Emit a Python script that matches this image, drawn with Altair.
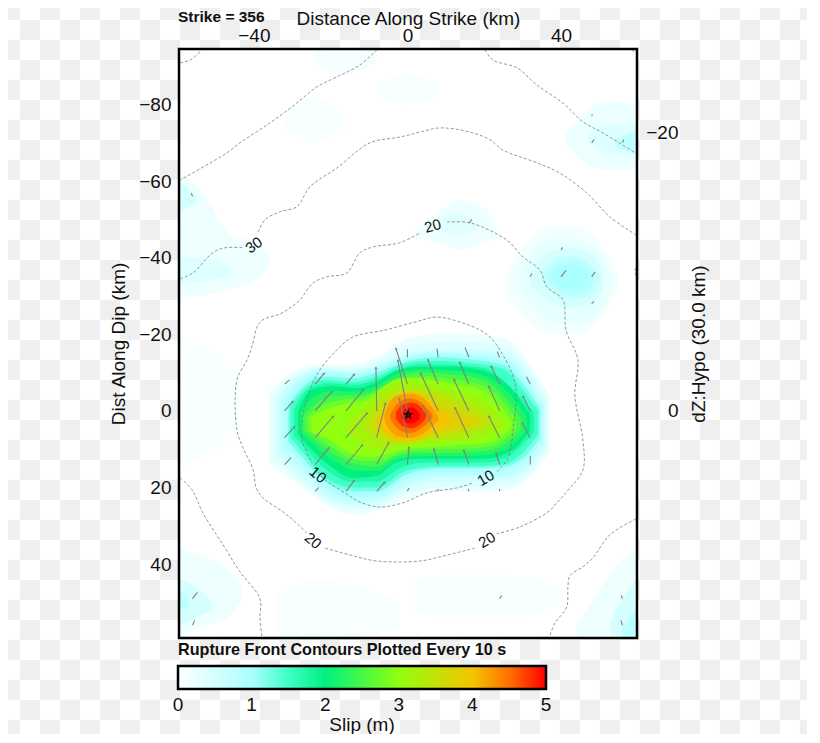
import math
import altair as alt
import pandas as pd

X_DOMAIN = [-59.5, 59.8]
Y_DOMAIN = [-94.5, 59.3]
DZ_DOMAIN = [-26.04, 16.33]
W, H = 458, 589
FONT = "Liberation Sans"
FS = 19

SLIP_STOPS = [0, 1, 1.5, 2, 3, 4, 4.5, 5]
SLIP_COLORS = ["#ffffff", "#aaffff", "#40ffc8", "#00f080", "#90ff10", "#f4c400", "#ff7000", "#ff0000"]
SLIP_TICKS = [0, 1, 2, 3, 4, 5]

# (slip level, x km, upper edge km, lower edge km), drawn low to high
PATCHES = [
    (0.08, [-59.4, -50, -44], [-20, -15, -10], [15, 10, 5]),
    (0.08, [-8, -1, 8], [-85, -88, -85], [-82, -80, -82]),
    (0.12, [-24, -16, -8], [-94, -94.3, -94], [-90, -88, -91]),
    (0.1, [-32, -24, -16], [-77, -82, -77], [-74, -70, -74]),
    (0.1, [2, 12, 24, 34, 40], [44, 43, 43, 44, 46], [52, 54, 54, 53, 50]),
    (0.08, [-34, -24, -12, -2], [48, 44, 46, 50], [59, 59, 59, 56]),
    (0.2, [41, 46, 52, 59.5], [-72, -78, -81, -80], [-70, -65, -63, -63]),
    (0.4, [47, 52, 59.5], [-72, -75, -75], [-70, -67, -66]),
    (0.7, [54, 59.5], [-71, -73], [-69, -67]),
    (0.15, [26, 32, 38, 44, 50, 55], [-36, -45, -48, -48, -44, -35], [-30, -23, -20, -20, -24, -32]),
    (0.3, [29, 34, 40, 46, 51, 53], [-36, -43, -45, -44, -40, -35], [-32, -26, -23, -23, -27, -32]),
    (0.5, [32, 36, 42, 48, 51], [-36, -41, -42.5, -41, -36], [-33, -29, -27, -28, -32]),
    (0.7, [35, 39, 43, 47, 50], [-36, -40, -40.5, -39, -36], [-34, -30, -29, -30, -33]),
    (0.85, [36.5, 40, 43, 47, 48.5], [-36, -39, -39.5, -38, -36], [-34, -31, -30, -31, -33.5]),
    (1.0, [38, 41, 44, 47], [-36, -38, -38, -36], [-34, -32, -32, -34]),
    (0.2, [2, 8, 14, 20, 24], [-47, -52, -55, -53, -46], [-45, -44, -42, -44, -45]),
    (0.35, [8, 13, 18], [-49, -52, -49], [-47, -46, -47]),
    (0.2, [-59.4, -54, -46, -40, -36], [-62, -58, -46, -44, -41], [-30, -30, -32, -34, -38]),
    (0.5, [-59.4, -55], [-60, -56], [-52, -54]),
    (0.4, [-59.4, -52, -46], [-40, -40, -37], [-33, -34, -35]),
    (0.2, [-59.4, -53, -47, -43], [36, 38, 41, 46], [59, 56, 54, 49]),
    (0.5, [-59.4, -55, -51], [44, 46, 50], [56, 54, 52]),
    (0.8, [-59.4, -57], [47, 49], [52, 51]),
    (0.2, [44, 48, 54, 59.5], [56, 50, 41, 36], [59, 59, 59, 59]),
    (0.5, [53, 56, 59.5], [55, 49, 44], [59, 59, 59]),
    (0.8, [56, 59.5], [56, 52], [59, 59]),
    # main slip patch
    (0.25, [-36, -30, -22, -14, -8, 0, 8, 16, 25, 32, 37],
     [-5, -10, -12, -12, -14, -19, -20, -20, -19, -12, -4],
     [14, 18, 24, 27, 26, 23, 21, 21, 21, 17, 11]),
    (0.4, [-35, -30, -22, -14, -8, 0, 8, 16, 25, 32, 36.5],
     [-4, -9, -11.5, -11, -13, -17, -18, -18, -17, -10.5, -3],
     [12.5, 16.5, 23, 25.5, 25, 21.5, 20, 20, 19.5, 16, 10]),
    (0.6, [-34, -30, -22, -14, -8, 0, 8, 16, 25, 32, 36],
     [-3, -8, -11, -10.5, -12, -15, -16, -16, -15, -9, -2],
     [11, 15, 22, 24.5, 24, 20, 18.5, 18.5, 18, 14.5, 9]),
    (0.8, [-33, -29, -22, -14, -8, 0, 8, 16, 25, 31.5, 35.5],
     [-2.5, -7.5, -10.5, -10, -11.5, -14.5, -15.5, -15, -14, -8, -1.5],
     [10, 14, 20.5, 23.5, 23, 19, 17, 17, 17, 13.5, 8.5]),
    (1.0, [-32, -28, -22, -14, -8, 0, 8, 16, 25, 31, 35],
     [-2, -7, -10, -9.5, -11, -14, -15, -14.5, -13, -7.5, -1],
     [9, 13, 19.5, 22.5, 22, 17.5, 16, 16, 15.5, 12.5, 8]),
    (1.25, [-31, -27.5, -22, -14, -8, 0, 8, 16, 25, 30.5, 34.5],
     [-1.5, -6, -9, -8.5, -10, -13, -14, -13.5, -12, -6.5, -0.5],
     [8, 12, 18, 21, 21, 16.5, 15, 15, 14.5, 12, 7]),
    (1.5, [-30.5, -27, -22, -14, -8, 0, 8, 16, 25, 30, 34],
     [-1, -5.5, -8, -7.5, -9, -12.5, -13, -12.5, -11, -5.5, 0],
     [7, 11, 17, 20, 20, 15.5, 14.5, 14.5, 14, 11, 6]),
    (1.75, [-29.5, -26, -21, -14, -8, -2, 4, 12, 20, 26, 33],
     [-0.5, -5.5, -7.2, -6.8, -8.2, -11, -12.2, -12, -11.2, -7, 0.5],
     [6.5, 10.5, 15.5, 18.5, 18.5, 15, 13.5, 13.5, 13.5, 12, 5.5]),
    (2.0, [-28.5, -25, -20, -14, -8, -3, 3, 12, 20, 27, 32],
     [0, -5.5, -6.5, -6, -7.5, -10.5, -11.5, -11.5, -10.5, -6, 1],
     [6, 10, 14.5, 17.5, 17, 13.5, 12.5, 12.5, 12.5, 10.5, 5]),
    (2.25, [-27.8, -24, -19, -13.5, -8, -3, 3, 12, 20, 26, 31],
     [0.5, -4, -5.2, -5, -6.5, -9.5, -10.8, -10.5, -9.2, -5, 1.5],
     [5.5, 9.2, 13, 15.5, 15.7, 12.8, 11.8, 11.8, 11.5, 9.8, 5]),
    (2.5, [-27, -23, -18, -13, -8, -3, 3, 12, 20, 25, 29.5],
     [1, -2.5, -4, -4, -5.5, -8.5, -10, -9.5, -8, -4, 2],
     [5, 8.5, 12, 14, 14.5, 12, 11, 11, 10.5, 9, 5]),
    (2.75, [-26, -22, -16.5, -11.5, -7, -2, 4, 12, 20, 24.5, 28.3],
     [1.2, -1.5, -3, -3.5, -6, -8.5, -9, -8.2, -6.5, -2.8, 2.2],
     [5.2, 7.8, 11.5, 13, 13, 11, 10.2, 10, 9.5, 8, 4.8]),
    (3.0, [-25, -21, -15, -10, -6, -1, 5, 12, 20, 24, 27],
     [1.5, -0.5, -2, -3, -6.5, -8.5, -8.2, -7, -5, -1.5, 2.5],
     [5.5, 7, 11, 12, 11.5, 10, 9.5, 9, 8.5, 7, 4.5]),
    (3.2, [-16, -11, -7, -2, 4, 12, 19, 23, 25],
     [2.5, -1, -5.5, -7.3, -7, -5.3, -3, 0, 2.5],
     [5, 9, 10, 9.3, 8.7, 8, 7, 5.5, 4]),
    (3.4, [-11, -8.5, -5, 0, 5, 12, 18, 22],
     [3, -1.5, -4.5, -6, -5.5, -3.5, -1, 2],
     [5, 7, 8.5, 8.5, 7.5, 7, 5.5, 3.5]),
    (3.6, [-9.5, -7, -3.5, 0, 5, 10, 15, 20],
     [2.5, -1, -4.2, -5.2, -4.5, -2.8, -0.5, 2],
     [4.5, 6.5, 8, 8, 7.2, 6.2, 5, 3.5]),
    (3.8, [-8, -6, -3, 0, 4, 8, 13, 18],
     [2, 0, -3, -4.5, -4, -1.5, 0.5, 2.5],
     [4, 5.5, 7.2, 7.8, 7, 5.5, 4.5, 3.5]),
    (4.0, [-7.5, -5.5, -2, 1, 5, 8, 11],
     [2, -1.5, -4.2, -5, -3.5, -1, 2],
     [3.5, 6, 7.8, 8, 6.5, 5, 3]),
    (4.2, [-6, -4.5, -2, 1, 4, 6, 8],
     [1, -2.5, -4.2, -4.5, -3.5, -1.5, 1.5],
     [2.5, 5.2, 6.8, 7, 6, 4.5, 2.5]),
    (4.5, [-4.5, -3, -1, 1, 3, 5, 6.5],
     [1, -1.5, -3, -3.3, -2.5, -0.8, 1],
     [2, 4.2, 5.5, 5.8, 5, 3.5, 2]),
    (4.8, [-3, -1.5, 1, 3, 4.8],
     [0.5, -1.5, -2.2, -1.5, 0.8],
     [2, 3.8, 4.5, 3.8, 2]),
    (5.0, [-1.5, 0, 1.5, 3.2],
     [0.8, -0.8, -0.8, 0.8],
     [2, 3.2, 3.2, 2]),
]

CONTOUR_10 = [
    [(-23.3, 16.0), (-21.5, 18.0), (-15.8, 21.7), (-12.4, 23.8), (-7.2, 25.1), (-1.2, 24.0), (5.1, 21.4), (12.9, 20.1), (17.1, 18.8)],
    [(23.3, 15.9), (26.2, 12.3), (27.5, 5.0), (28.3, -5.5), (27.2, -9.9), (24.1, -15.9), (21.5, -19.3), (18.9, -21.1),
     (13.7, -23.2), (7.7, -24.5), (2.0, -23.2), (-5.9, -21.1), (-14.2, -19.3), (-18.4, -15.9), (-22.8, -10.7),
     (-25.4, -5.5), (-27.7, 4.2), (-27.2, 8.4), (-24.9, 13.6)],
]
CONTOUR_20 = [
    [(10.3, -49.3), (16.3, -49.1), (25.9, -44.6), (30.1, -40.2), (34.5, -36.8), (36.3, -32.4), (40.5, -29.0), (41.3, -21.1),
     (44.4, -13.3), (43.6, -4.2), (45.7, 7.6), (45.7, 15.4), (41.5, 21.1), (38.9, 24.0), (36.6, 26.4), (29.3, 30.3), (23.3, 32.1)],
    [(17.6, 35.8), (8.5, 38.1), (3.3, 39.2), (-7.9, 39.2), (-15.0, 37.6), (-21.5, 35.8)],
    [(-26.2, 31.9), (-29.8, 28.5), (-32.4, 26.4), (-37.6, 22.7), (-39.4, 20.1), (-40.2, 15.4), (-42.8, 9.7), (-44.4, 5.0),
     (-44.4, -8.1), (-41.8, -13.3), (-40.2, -17.8), (-39.2, -21.9), (-37.6, -23.8), (-33.2, -25.3), (-30.6, -26.9),
     (-28.0, -29.0), (-24.6, -33.4), (-21.0, -35.0), (-15.8, -36.0), (-12.4, -41.3), (-9.0, -42.8), (-2.0, -43.9), (3.3, -46.5)],
]
CONTOUR_30 = [
    [(-59.2, -34.5), (-55.9, -36.0), (-50.7, -41.3), (-47.5, -42.6), (-42.8, -42.6)],
    [(-38.9, -46.7), (-37.1, -49.9), (-33.2, -52.0), (-28.8, -53.3), (-25.4, -58.5), (-18.4, -63.4), (-9.8, -70.0), (-2.0, -71.5),
     (3.3, -72.8), (8.5, -73.9), (16.3, -72.8), (21.5, -70.8), (24.9, -68.1), (33.7, -64.8), (39.7, -62.1), (46.7, -56.9),
     (52.7, -50.7), (59.5, -46.0)],
    [(-59.2, 17.5), (-56.1, 20.6), (-53.3, 26.6), (-48.0, 35.0), (-43.6, 42.0), (-38.9, 48.0), (-38.2, 50.1), (-38.4, 53.8), (-37.9, 59.0)],
    [(59.5, 28.2), (52.7, 32.4), (48.3, 38.4), (45.7, 40.7), (42.3, 43.1), (41.8, 46.0), (41.5, 51.2), (38.4, 55.4), (37.1, 58.7)],
]
CONTOUR_40 = [
    [(-7.9, -94.3), (-12.4, -90.3), (-18.4, -87.2), (-23.6, -84.6), (-28.8, -80.4), (-35.8, -75.2), (-43.6, -70.0), (-47.0, -67.4), (-59.2, -60.3)],
    [(20.2, -94.3), (22.3, -91.6), (28.5, -89.6), (33.7, -85.1), (40.5, -80.4), (45.7, -75.5), (50.9, -72.6), (59.8, -67.1)],
    [(-59.2, -90.9), (-56.6, -91.6), (-53.5, -94.3)],
    [(58.5, -94.3), (59.8, -93.0)],
    [(59.8, -38.6), (59.3, -36.3), (59.8, -34.2)],
]

LABEL_X = [-23.3, 20.4, 6.6, -40.0, -24.6, 20.7]
LABEL_Y = [16.7, 17.5, -48.3, -43.3, 33.9, 33.7]
LABEL_TEXT = ["10", "10", "20", "30", "20", "20"]
LABEL_ANGLE = [40, 330, 345, 325, 40, 330]

# slip vectors: base x, base y, dx, dy (km)
VECTORS = [
    (-32, 14, 1.7, -1.8), (-24, 14, 3.5, -4.3), (-16, 14, 4.3, -5.1), (-8, 14, 3.1, -5.7), (0, 14, 0.4, -4.5),
    (8, 14, -1.1, -4.0), (16, 14, -1.3, -3.7), (24, 14, -0.9, -3.0), (32, 14, 0, -2.3),
    (-32, 7, 2.6, -2.8), (-24, 7, 4.7, -5.6), (-16, 7, 5.5, -6.4), (-8, 7, 2.3, -9.0), (0, 7, -2.1, -10.2),
    (8, 7, -4.0, -8.4), (16, 7, -3.6, -7.8), (24, 7, -2.8, -5.6), (32, 7, -2.1, -3.8),
    (-32, 0, 2.2, -2.5), (-24, 0, 4.3, -5.1), (-16, 0, 4.6, -5.6), (-8, 0, -0.2, -11.3), (0, 0, -2.5, -13.2),
    (8, 0, -4.6, -9.9), (16, 0, -3.9, -8.2), (24, 0, -2.8, -6.4), (32, 0, -1.9, -3.8),
    (-32, -7, 1.3, -1.1), (-24, -7, 2.3, -2.8), (-16, -7, 2.2, -2.6), (0, -7, -3.0, -9.3),
    (8, -7, -2.7, -6.4), (16, -7, -2.4, -5.7), (24, -7, -2.2, -4.7), (32, -7, -1.0, -1.9),
    (0, -14, 0, -2.1), (8, -14, -0.3, -2.3), (16, -14, -1.0, -2.6), (24, -14, -0.6, -1.5),
    (-24, 21, 0.9, -1.0), (-16, 21, 2.1, -2.8), (-8, 21, 2.1, -2.4), (0, 21, 0.4, -0.9),
    (8, 21, 0, -0.6), (16, 21, -0.2, -0.6), (24, 21, 0, -0.6),
    (-56, 49, 1.3, -1.6), (-56, 56, 0.6, -1.3), (24, 49, 0.6, -0.8), (56, 49, -0.3, -0.9), (56, 56, -0.4, -1.3),
    (40, -35, 1.3, -1.7), (48, -35, 0.9, -1.3), (32, -35, 0.4, -0.9), (48, -28, 0.6, -0.6), (40, -42, 0.4, -0.7),
    (48, -70, 0.6, -0.9), (56, -70, 0.4, -0.9), (48, -77, 0.2, -0.4), (-56, -56, -0.3, -0.9), (16, -49, 0.8, -1.0),
]

STAR_X, STAR_Y = [0.2], [1.0]
STAR_PATH = ("M0,-1L.224,-.309L.951,-.309L.363,.118L.588,.809L0,.382L-.588,.809L-.363,.118L-.951,-.309L-.224,-.309Z")

# ---- tables ----
patch_rows = []
for pid, (lvl, xs_, tops, bots) in enumerate(PATCHES):
    for x, t, b in zip(xs_, tops, bots):
        patch_rows.append(dict(id=pid, level=lvl, x=x, top=t, bot=b))
patches = pd.DataFrame(patch_rows)

line_rows = []
lid = 0
for group in (CONTOUR_10, CONTOUR_20, CONTOUR_30, CONTOUR_40):
    for seg in group:
        for i, (x, y) in enumerate(seg):
            line_rows.append(dict(id=lid, i=i, x=x, y=y))
        lid += 1
lines = pd.DataFrame(line_rows)

labels = pd.DataFrame(dict(x=LABEL_X, y=LABEL_Y, t=LABEL_TEXT, a=LABEL_ANGLE))
vec = pd.DataFrame(VECTORS, columns=["x", "y", "dx", "dy"])
vec["x2"] = vec.x + vec.dx
vec["y2"] = vec.y + vec.dy
vec["ang"] = [(math.degrees(math.atan2(a, -b)) + 360) % 360 for a, b in zip(vec.dx, vec.dy)]
vec["mag"] = (vec.dx ** 2 + vec.dy ** 2) ** 0.5
heads = vec[vec.mag > 3]

# page backdrop squares, expressed on the chart's own axes
cells = []
for c in range(41):
    for r in range(38):
        if (c + r) % 2 == 0:
            cells.append(dict(x0=(20 * c - 407.5) / 3.84, x1=(20 * c + 20 - 407.5) / 3.84,
                              y0=(20 * r - 411) / 3.83, y1=(20 * r + 20 - 411) / 3.83))
cells = pd.DataFrame(cells)

one = pd.DataFrame({"k": [0]})
xs = alt.Scale(domain=X_DOMAIN, nice=False, zero=False)
ys = alt.Scale(domain=Y_DOMAIN, nice=False, zero=False, reverse=True)
XT = "Distance Along Strike (km)"
YT = "Dist Along Dip (km)"
NX = alt.X("x:Q", scale=xs, title=XT)
NY = alt.Y("y:Q", scale=ys, title=YT)

backdrop = alt.Chart(cells).mark_rect(color="#efefef").encode(
    x=alt.X("x0:Q", scale=xs, title=XT,
            axis=alt.Axis(orient="top", values=[-40, 0, 40], grid=False, domain=False, ticks=False,
                          labelFontSize=FS, titleFontSize=FS, labelPadding=4, titlePadding=-2,
                          labelFont=FONT, titleFont=FONT, titleFontWeight="normal",
                          labelColor="#111", titleColor="#111", zindex=1)),
    x2="x1:Q",
    y=alt.Y("y0:Q", scale=ys, title=YT,
            axis=alt.Axis(orient="left", values=[-80, -60, -40, -20, 0, 20, 40], grid=False, domain=False, ticks=False,
                          labelFontSize=FS, titleFontSize=FS, labelPadding=8, titlePadding=10,
                          labelFont=FONT, titleFont=FONT, titleFontWeight="normal",
                          labelColor="#111", titleColor="#111", zindex=1)),
    y2="y1:Q",
)

plot_bg = alt.Chart(one).mark_rect(color="white").encode(
    x=alt.value(0), x2=alt.value(W), y=alt.value(0), y2=alt.value(H))

slip = alt.Chart(patches).mark_area(interpolate="monotone").encode(
    x=NX,
    y=alt.Y("top:Q", scale=ys, title=YT),
    y2="bot:Q",
    detail="id:N",
    color=alt.Color("level:Q",
                    scale=alt.Scale(domain=SLIP_STOPS, range=SLIP_COLORS, zero=False, nice=False, interpolate="rgb"),
                    legend=alt.Legend(
                        title=None, orient="none", legendX=-1, legendY=617, direction="horizontal",
                        gradientLength=368, gradientThickness=23, gradientStrokeColor="black", gradientStrokeWidth=2.5,
                        values=SLIP_TICKS, labelExpr="''")),
)

contours = alt.Chart(lines).mark_line(interpolate="catmull-rom", color="#7c7c7c", strokeWidth=0.8,
                                      strokeDash=[3, 2]).encode(
    x=NX, y=NY, detail="id:N", order="i:Q")

vectors = alt.Chart(vec).mark_rule(color="#808080", strokeWidth=1.1).encode(x=NX, y=NY, x2="x2:Q", y2="y2:Q")
arrowheads = alt.Chart(heads).mark_point(shape="triangle-up", filled=True, color="#808080", size=8, opacity=1).encode(
    x=alt.X("x2:Q", scale=xs, title=XT), y=alt.Y("y2:Q", scale=ys, title=YT),
    angle=alt.Angle("ang:Q", scale=None))

label_marks = alt.Chart(labels).mark_text(fontSize=15, font=FONT, color="#111").encode(
    x=NX, y=NY, text="t:N", angle=alt.Angle("a:Q", scale=None))

star = alt.Chart(pd.DataFrame({"x": STAR_X, "y": STAR_Y})).mark_point(
    shape=STAR_PATH, size=49, filled=True, fill="#f02000", stroke="#111", strokeWidth=1.5, opacity=1).encode(x=NX, y=NY)

frame = alt.Chart(one).mark_rect(fillOpacity=0, stroke="black", strokeWidth=2.5).encode(
    x=alt.value(0), x2=alt.value(W), y=alt.value(0), y2=alt.value(H))


def note(text, x, y, size=FS, weight="normal", align="center"):
    return alt.Chart(one).mark_text(text=text, fontSize=size, fontWeight=weight, font=FONT, align=align,
                                    baseline="middle", color="#111").encode(x=alt.value(x), y=alt.value(y))


strike = note("Strike = 356", -1, -32, 15.5, "bold", "left")
front = note("Rupture Front Contours Plotted Every 10 s", -1, 601, 16.2, "bold", "left")
tick_notes = [note(str(s), -1 + 73.6 * s, 656) for s in SLIP_TICKS]
slip_title = note("Slip (m)", 183, 676)

main = alt.layer(backdrop, plot_bg, slip, contours, vectors, arrowheads, label_marks, star, frame, strike, front,
                 *tick_notes, slip_title)

right = alt.Chart(pd.DataFrame({"dz": [-20, 0]})).mark_point(opacity=0).encode(
    y=alt.Y("dz:Q", scale=alt.Scale(domain=DZ_DOMAIN, nice=False, zero=False, reverse=True), title="dZ:Hypo (30.0 km)",
            axis=alt.Axis(orient="right", values=[-20, 0], grid=False, domain=False, ticks=False,
                          labelFontSize=FS, titleFontSize=FS, labelPadding=41, labelAlign="right", titlePadding=30,
                          titleAngle=270, labelFont=FONT, titleFont=FONT, titleFontWeight="normal",
                          labelColor="#111", titleColor="#111", zindex=1)))

chart = alt.layer(main, right).resolve_scale(y="independent").properties(
    width=W, height=H,
    autosize=alt.AutoSizeParams(type="none"),
    padding={"left": 171, "top": 41, "right": 170, "bottom": 96},
).configure_view(stroke=None)

chart.save("out.html", embed_options={"renderer": "svg", "actions": False})
